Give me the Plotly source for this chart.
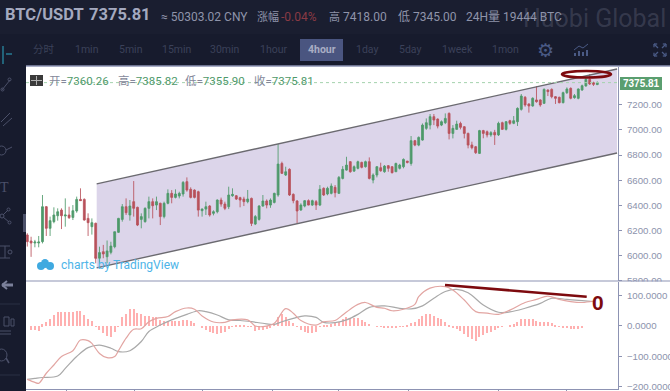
import plotly.graph_objects as go

# ---------- candles (USDT) ----------
opens = [6164,6116,6100,6100,6111,6389,6217,6270,6317,6362,6315,6323,6304,6355,6447,6447,6296,6230,6257,5979,
6031,5991,6026,6071,6185,6288,6389,6323,6429,6384,6288,6270,6376,6429,6402,6416,6310,6416,6495,6463,
6474,6490,6588,6527,6521,6508,6357,6370,6394,6336,6349,6442,6410,6389,6476,6476,6461,6450,6429,6455,
6251,6288,6394,6434,6402,6423,6482,6733,6641,6686,6487,6434,6363,6394,6437,6402,6429,6402,6535,6490,
6495,6543,6495,6614,6680,6747,6672,6694,6741,6707,6747,6601,6641,6699,6667,6715,6707,6667,6694,6707,
6752,6733,6914,6879,6919,7012,7038,7105,7086,7038,7057,7131,6972,7004,7051,7025,6972,6880,6866,6813,
6994,6985,6960,6980,6960,7057,7004,7073,7052,7065,7163,7259,7206,7190,7238,7238,7211,7317,7322,7264,
7259,7216,7296,7330,7256,7251,7317,7349,7402,7375,7360.26]
highs = [6178,6150,6125,6156,6482,6394,6310,6384,6376,6376,6455,6389,6402,6469,6535,6455,6336,6296,6262,6071,
6085,6120,6110,6190,6300,6410,6455,6442,6593,6389,6336,6384,6469,6455,6469,6421,6429,6527,6521,6527,
6508,6593,6622,6543,6527,6516,6376,6429,6402,6360,6447,6461,6429,6548,6535,6482,6468,6468,6522,6461,
6323,6402,6482,6447,6455,6500,6887,6747,6707,6694,6495,6442,6416,6442,6447,6445,6442,6561,6543,6548,
6574,6561,6633,6712,6786,6752,6717,6755,6747,6755,6781,6654,6712,6739,6720,6720,6712,6739,6730,6773,
6752,6951,6920,6948,7051,7091,7126,7126,7091,7075,7131,7139,7038,7073,7065,7030,6978,6906,6872,7000,
7000,6995,6990,7000,7065,7065,7070,7080,7110,7179,7285,7269,7211,7259,7349,7243,7330,7322,7330,7269,
7264,7304,7338,7338,7285,7330,7360,7418,7444,7383,7385.82]
lows = [6072,5990,6066,6066,6097,6156,6156,6257,6278,6211,6230,6291,6283,6341,6437,6278,6156,6167,5939,5939,
5979,5939,6010,6058,6180,6270,6323,6278,6310,6235,6217,6262,6296,6296,6362,6243,6296,6408,6416,6455,
6455,6469,6508,6455,6455,6310,6310,6323,6310,6320,6336,6389,6362,6370,6468,6442,6384,6394,6416,6235,
6243,6278,6389,6376,6380,6415,6468,6649,6633,6474,6416,6257,6355,6384,6400,6395,6363,6394,6474,6480,
6487,6463,6490,6606,6675,6659,6665,6686,6694,6700,6606,6575,6622,6667,6659,6667,6654,6667,6685,6694,
6733,6715,6870,6870,6914,7000,7004,7038,7012,7030,7046,6924,6932,7000,7004,6932,6853,6845,6808,6808,
6933,6940,6945,6880,6951,6999,6995,7040,7045,7031,7153,7184,7137,7184,7216,7184,7206,7269,7251,7206,
7211,7211,7285,7243,7248,7243,7310,7344,7357,7349,7355.90]
closes = [6111,6100,6108,6108,6389,6217,6278,6323,6349,6317,6323,6302,6357,6447,6437,6283,6262,6262,5978,6024,
6013,6037,6076,6190,6296,6389,6341,6394,6376,6243,6310,6376,6429,6397,6429,6310,6416,6495,6463,6490,
6495,6582,6521,6463,6463,6362,6370,6389,6323,6349,6442,6410,6376,6482,6487,6450,6442,6429,6450,6256,
6310,6394,6434,6402,6442,6495,6728,6654,6667,6482,6437,6355,6402,6437,6402,6437,6402,6527,6482,6535,
6553,6500,6622,6686,6720,6667,6707,6747,6702,6747,6614,6641,6707,6675,6712,6694,6659,6733,6720,6765,
6741,6914,6879,6940,7038,7057,7105,7078,7030,7065,7091,6972,7012,7046,7020,6972,6879,6858,6819,6994,
6972,6960,6978,6960,7052,7004,7065,7052,7073,7171,7269,7198,7190,7251,7224,7198,7322,7304,7264,7251,
7216,7296,7325,7251,7272,7325,7351,7402,7365,7362,7375.81]
candle_x = list(range(len(closes)))

# ---------- channel ----------
channel_x = [18.26, 155.2]
channel_top = [6570, 7484]
channel_bottom = [5902, 6816]
last_price = 7375.81

# ---------- MACD ----------
dif_x = [0,2,3,5,7,9,12,14,16,17,19,21,23,24,26,28,30,32,34,37,39,42,44,46,49,52,54,58,60,62,65,68,70,72,76,78,
         81,83,85,87,89,92,94,96,99,102,103,106,110,112,115,118,121,124,127,131,134,137,140,143,146,149]
dif_y = [-175,-185,-188,-155,-128,-100,-81,-46,-48,-57,-90,-104,-100,-81,-40,-11,-9,14,25,31,47,59,55,33,13,12,20,20,0,-2,9,57,42,18,3,14,
         18,36,55,71,77,61,58,50,55,71,96,124,129,118,85,47,42,38,52,77,87,98,87,80,77,82]
dea_x = [0,2,4,8,10,13,16,19,22,24,27,30,32,35,38,42,45,47,50,53,56,59,62,65,67,70,73,76,78,
         81,84,87,90,94,98,101,104,107,110,113,116,120,124,127,131,135,138,142,146,149]
dea_y = [-175,-172,-169,-164,-139,-100,-71,-63,-73,-84,-81,-51,-18,3,20,38,50,47,36,20,18,14,9,5,14,25,33,28,12,
         11,20,38,61,66,58,56,66,91,113,120,109,69,45,46,58,74,91,87,83,80]
hist_y = [-13,-13,-15,5,14,22,36,45,47,47,46,45,48,49,36,22,17,-3,-13,-24,-33,-35,-19,-2,28,41,55,55,44,41,34,34,31,28,20,17,17,17,17,17,20,20,15,9,0,
          -8,-13,-19,-24,-26,-24,-19,-10,-2,1,1,1,-1,-1,-15,-14,-13,-9,-5,8,28,39,28,17,11,-3,-12,-19,-24,-24,-19,-3,3,3,5,
          9,14,22,28,27,27,25,20,12,7,0,-1,-3,-5,-5,-6,-5,-3,-1,1,9,14,22,33,38,39,33,27,22,14,2,-4,-10,-15,-26,-35,-43,-48,-35,-30,-24,-19,-13,-4,-2,0,3,5,14,22,22,23,22,16,14,14,14,9,1,-3,-5,-5,-9,-10,-9,-8]
hist_x = list(range(1, len(hist_y) + 1))
bottom_ticks = [10.4, 28.3, 46.2, 64.4, 82, 100.2, 124.1, 142]

# ---------- texts ----------
price_ticks = [5800, 6000, 6200, 6400, 6600, 6800, 7000, 7200]
macd_ticks = [-200, -100, 0, 100]
toolbar = [("分时", 44), ("1min", 87), ("5min", 131), ("15min", 177), ("30min", 225), ("1hour", 273),
           ("1day", 367), ("5day", 410), ("1week", 457), ("1mon", 505)]
ohlc_text = [("开", "7360.26", 47), ("高", "7385.82", 116), ("低", "7355.90", 183), ("收", "7375.81", 252)]

GREEN = "#4f9a6b"
RED = "#b9525c"
AXIS = "#8d93b3"
DARK = "#171b2d"
FONT = "Roboto, 'Noto Sans CJK SC'"

L, R, T, B = 26, 618, 67, 389
W, H = R - L, B - T
px = lambda x: (x - L) / W
py = lambda y: (B - y) / H

shapes, notes = [], []

def rect(x0, y0, x1, y1, fill, layer="below", line=None, lw=0):
    shapes.append(dict(type="rect", xref="paper", yref="paper", x0=px(x0), x1=px(x1), y0=py(y0), y1=py(y1),
                       fillcolor=fill, line=dict(color=line or fill, width=lw), layer=layer))

def seg(x0, y0, x1, y1, color, w=1.0, layer="above"):
    shapes.append(dict(type="line", xref="paper", yref="paper", x0=px(x0), x1=px(x1), y0=py(y0), y1=py(y1),
                       line=dict(color=color, width=w), layer=layer))

def circ(x0, y0, x1, y1, color, w=1.0, fill="rgba(0,0,0,0)", layer="above"):
    shapes.append(dict(type="circle", xref="paper", yref="paper", x0=px(x0), x1=px(x1), y0=py(y0), y1=py(y1),
                       fillcolor=fill, line=dict(color=color, width=w), layer=layer))

def text(x, y, s, size, color, anchor="left", family=FONT, bg=None):
    notes.append(dict(xref="paper", yref="paper", x=px(x), y=py(y), text=s, showarrow=False, xanchor=anchor,
                      yanchor="middle", font=dict(size=size, color=color, family=family),
                      bgcolor=bg, borderpad=0))

# backgrounds
rect(0, 0, 670, 34, "#1a1e30")
rect(L, 66, 670, 391, "#ffffff")
seg(L, 66, 670, 66, AXIS, 1.5, "below")

# channel area, under the candles
shapes.append(dict(type="path", xref="x", yref="y", layer="below", fillcolor="#dcd5ea", line=dict(width=0),
                   path=f"M {channel_x[0]} {channel_top[0]} L {channel_x[1]} {channel_top[1]} "
                        f"L {channel_x[1]} {channel_bottom[1]} L {channel_x[0]} {channel_bottom[0]} Z"))

rect(619, 281.6, 670, 289, "#ffffff", "above")
seg(L, 281, 670, 281, AXIS, 1, "above")

# header
text(4, 15, "<b>BTC/USDT</b>", 16.5, "#a4a9bf")
text(88, 15, "<b>7375.81</b>", 16.5, "#a4a9bf")
text(160, 17, "≈ 50303.02 CNY", 12, "#8f94aa")
text(256, 17, "涨幅", 11, "#8f94aa")
text(280, 17, "-0.04%", 12, "#8a3a44")
text(328, 17, "高", 11, "#8f94aa")
text(342, 17, "7418.00", 12, "#8f94aa")
text(397, 17, "低 7345.00", 12, "#8f94aa")
text(465, 17, "24H量 19444 BTC", 12, "#8f94aa")
text(522, 18, "Huobi Global", 25, "rgba(120,125,145,0.3)")

# toolbar
for label, x in toolbar:
    text(x, 50, label, 10.5, "#3b4159", "center")
rect(300, 39, 343, 61, "#4a5580")
text(321.5, 50, "<b>4hour</b>", 10.5, "#a9adc4", "center")
text(545, 50, "⚙", 19, "#4a5a85", "center", "DejaVu Sans")
for x0, y0 in [(575, 53), (579, 51), (583, 52), (587, 50)]:
    seg(x0, y0, x0, 56, "#4a5a85", 2)
seg(574, 50, 579, 46, "#4a5a85", 1); seg(579, 46, 583, 48, "#4a5a85", 1); seg(583, 48, 588, 44, "#4a5a85", 1)
for ax, ay, bx, by in [(654, 44, 658, 48), (666, 44, 662, 48), (654, 56, 658, 52), (666, 56, 662, 52)]:
    seg(ax, ay, bx, by, "#4a5a85", 1.3)
    seg(ax, ay, ax + (bx - ax) * 0.8, ay, "#4a5a85", 1.3)
    seg(ax, ay, ax, ay + (by - ay) * 0.8, "#4a5a85", 1.3)

# left tool bar
ICON = "#4b5069"
seg(3, 46, 3, 64, "#2a94ad", 1.2); seg(6, 54, 12, 54, "#2a94ad", 1.2)
seg(2, 90, 10, 80, ICON); circ(1, 88, 4, 91, ICON); circ(8, 78, 11, 81, ICON)
seg(1, 122, 10, 113, ICON); seg(3, 126, 12, 118, ICON)
circ(-3, 146, 6, 155, ICON); seg(6, 150, 12, 147, ICON)
text(-1, 187, "T", 14, ICON, family="Liberation Serif")
circ(0, 214, 4, 218, ICON); circ(7, 208, 10, 211, ICON); circ(8, 221, 11, 224, ICON)
seg(3, 215, 8, 210, ICON); seg(3, 217, 9, 222, ICON)
seg(0, 246, 10, 246, ICON); seg(0, 258, 10, 258, ICON); seg(5, 246, 5, 258, ICON); circ(8, 250, 12, 254, ICON)
rect(23, 214, 26, 232, "#4b5069", "above")
seg(2, 285, 13, 285, "#7b809a", 3); seg(2, 285, 7, 281, "#7b809a", 2); seg(2, 285, 7, 289, "#7b809a", 2)
seg(0, 304, 20, 304, "#2b3045")
rect(4, 317, 9, 326, DARK, "above", ICON, 1); rect(11, 319, 14, 326, DARK, "above", ICON, 1)
seg(0, 331, 11, 331, ICON); seg(0, 334, 11, 334, ICON)
circ(-4, 349, 7, 361, ICON); seg(6, 358, 9, 363, ICON, 1.5)
seg(0, 375, 20, 375, "#2b3045")

# legend over the chart
rect(30, 75, 43, 86, "#3a3a3a", "above")
seg(36.5, 76, 36.5, 85, "#b0b0b0", 1); seg(31, 80.5, 42, 80.5, "#b0b0b0", 1)
for name, val, x in ohlc_text:
    notes.append(dict(xref="paper", yref="paper", x=px(x), y=py(81), showarrow=False, xanchor="left", yanchor="middle",
                      text=f"<span style='color:#84889a'>{name}=</span><span style='color:{GREEN}'>{val}</span>",
                      font=dict(size=11.5, family=FONT)))

# watermark
for box in [(37, 262, 45, 270), (41, 259, 49, 268), (46, 262, 54, 270)]:
    circ(*box, "#3fa9e0", 0, "#3fa9e0")
text(60, 265, "charts by TradingView", 12, "#4db4e8")

# last price tag
rect(620, 77, 662, 90, "#5a9e6f", "above")
text(641, 83.5, "<b>7375.81</b>", 10, "#ffffff", "center", "Liberation Sans")

# hand drawn marks
circ(562, 71, 611, 77.5, "#7d0a0e", 2.6)
seg(445, 285, 586.7, 296.7, "#7d0a0e", 2.6)
text(598, 302, "<b>0</b>", 21, "#7d0a0e", "center", "Liberation Sans")

fig = go.Figure()
for arr in (channel_top, channel_bottom):
    fig.add_trace(go.Scatter(x=channel_x, y=arr, mode="lines", line=dict(color="#6b6a70", width=1.4),
                             xaxis="x", yaxis="y"))
fig.add_trace(go.Scatter(x=[-0.34, 155.45], y=[last_price, last_price], mode="lines",
                         line=dict(color="#a5d3ad", width=1, dash="dot"), xaxis="x", yaxis="y"))
fig.add_trace(go.Candlestick(x=candle_x, open=opens, high=highs, low=lows, close=closes, whiskerwidth=0,
                             increasing=dict(line=dict(color="rgba(79,154,107,0.85)", width=1), fillcolor=GREEN),
                             decreasing=dict(line=dict(color="rgba(185,82,92,0.85)", width=1), fillcolor=RED),
                             xaxis="x", yaxis="y"))
fig.add_trace(go.Bar(x=hist_x, y=hist_y, width=0.28, marker=dict(color="#ffb0b0", line=dict(width=0)),
                     xaxis="x2", yaxis="y2"))
fig.add_trace(go.Scatter(x=dea_x, y=dea_y, mode="lines", line=dict(color="#a9a9a9", width=1.2, shape="spline"),
                         xaxis="x2", yaxis="y2"))
fig.add_trace(go.Scatter(x=dif_x, y=dif_y, mode="lines", line=dict(color="#e2a5a2", width=1.2, shape="spline"),
                         xaxis="x2", yaxis="y2"))

split = py(281)
common_x = dict(range=[-0.34, 155.45], showgrid=False, zeroline=False, fixedrange=True)
tick_font = dict(size=9.7, color="#8d93ad", family="Liberation Sans")
fig.update_layout(
    width=670, height=391, margin=dict(l=L, r=670 - R, t=T, b=391 - B, autoexpand=False), showlegend=False,
    paper_bgcolor=DARK, plot_bgcolor="rgba(0,0,0,0)", shapes=shapes, annotations=notes, bargap=0, hovermode=False,
    xaxis=dict(domain=[0, 1], anchor="y", showticklabels=False, ticks="", rangeslider=dict(visible=False), **common_x),
    xaxis2=dict(domain=[0, 1], anchor="y2", showticklabels=False, ticks="outside", ticklen=2, tickcolor=AXIS,
                tickvals=bottom_ticks, showline=True, linecolor=AXIS, linewidth=1, **common_x),
    yaxis=dict(domain=[split, 1], anchor="x", side="right", range=[5798, 7500], tickvals=price_ticks,
               tickformat=".2f", showgrid=False, zeroline=False, showline=True, linecolor=AXIS, linewidth=1,
               ticks="outside", ticklen=3, tickcolor=AXIS, tickfont=tick_font, ticklabelstandoff=3,
               ticklabeloverflow="allow"),
    yaxis2=dict(domain=[0, split - 0.003], anchor="x2", side="right", range=[-206.6, 144.3], tickvals=macd_ticks,
                tickformat=".4f", showgrid=False, zeroline=False, showline=True, linecolor=AXIS, linewidth=1,
                ticks="outside", ticklen=3, tickcolor=AXIS, tickfont=tick_font, ticklabelstandoff=3,
                ticklabeloverflow="allow"),
)
fig.write_html("out.html", config=dict(displayModeBar=False),
               post_script="document.body.style.margin='0';document.body.style.overflow='hidden';")
